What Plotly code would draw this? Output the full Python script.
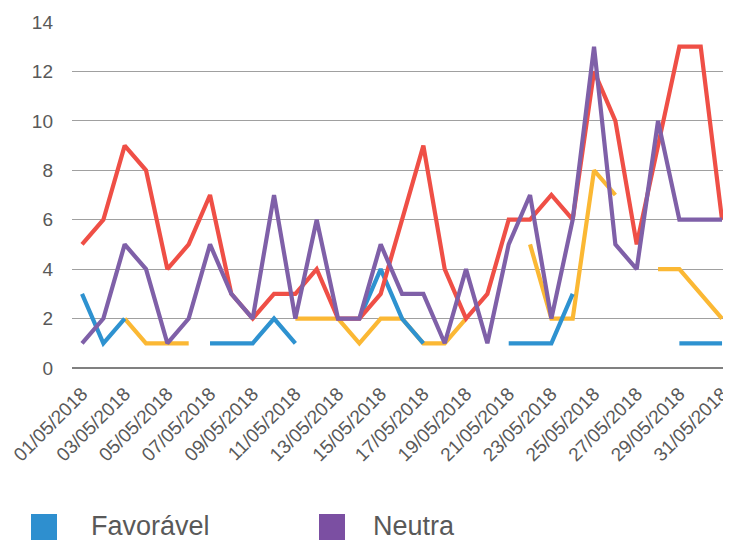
import plotly.graph_objects as go

days = list(range(1, 32))
tick_days = list(range(1, 32, 2))
tick_labels = [f"{d:02d}/05/2018" for d in tick_days]

favoravel = [3, 1, 2, None, None, None, 1, 1, 1, 2, 1, None, None, 2, 4, 2, 1, None, None, None,
             1, 1, 1, 3, None, None, None, None, 1, 1, 1]
neutra = [1, 2, 5, 4, 1, 2, 5, 3, 2, 7, 2, 6, 2, 2, 5, 3, 3, 1, 4, 1, 5, 7, 2, 6, 13, 5, 4, 10, 6, 6, 6]
desfavoravel = [5, 6, 9, 8, 4, 5, 7, 3, 2, 3, 3, 4, 2, 2, 3, 6, 9, 4, 2, 3, 6, 6, 7, 6, 12, 10, 5, 9, 13, 13, 6]
mista = [None, None, 2, 1, 1, 1, None, None, None, None, 2, 2, 2, 1, 2, 2, 1, 1, 2, None,
         None, 5, 2, 2, 8, 7, None, 4, 4, 3, 2]

C_BLUE = "#2E92D0"
C_PURPLE = "#7F60A8"
C_RED = "#EF4F46"
C_YELLOW = "#FBB834"
TXT = "#595959"
FONT = "Liberation Sans, Arial, sans-serif"

# page body has an 8px default margin; design in page pixels and offset by it
OFF = 8
W, H = 731 - OFF, 541 - OFF
ML, MR, MT = 72 - OFF, 0, 22 - OFF
MB = H - (368 - OFF)

fig = go.Figure()
for name, vals, col in [("Mista", mista, C_YELLOW), ("Favorável", favoravel, C_BLUE),
                        ("Desfavorável", desfavoravel, C_RED), ("Neutra", neutra, C_PURPLE)]:
    fig.add_trace(go.Scatter(x=days, y=vals, mode="lines", name=name,
                             line=dict(color=col, width=4.2), connectgaps=False,
                             showlegend=False))

fig.update_layout(
    width=W, height=H,
    margin=dict(l=ML, r=MR, t=MT, b=MB),
    paper_bgcolor="white", plot_bgcolor="white",
    font=dict(family=FONT, color=TXT, size=19),
    showlegend=False,
    xaxis=dict(range=[0.53, 31.42], tickmode="array", tickvals=tick_days, ticktext=tick_labels,
               tickangle=-45, showgrid=False, zeroline=False, showline=False,
               ticks="", tickfont=dict(size=19, color=TXT), ticklabelstandoff=10,
               ticklabeloverflow="allow"),
    yaxis=dict(range=[0, 14], dtick=2, showgrid=True, gridcolor="#A0A0A0", gridwidth=1.3,
               zeroline=True, zerolinecolor="#808080", zerolinewidth=2, showline=False,
               ticks="", tickfont=dict(size=19, color=TXT), ticklabelstandoff=18),
)

pw = W - ML - MR
ph = H - MT - MB

def px2paper(x, y):
    # x, y in page pixels
    return (x - OFF - ML) / pw, (H - MB - (y - OFF)) / ph

legend_items = [("Favorável", "#2E8FCF", 31, 90), ("Neutra", "#7B4FA2", 319, 372)]
for label, col, sx, tx in legend_items:
    x0, y0 = px2paper(sx, 514)
    x1, y1 = px2paper(sx + 26, 540)
    fig.add_shape(type="rect", xref="paper", yref="paper", x0=x0, x1=x1, y0=y1, y1=y0,
                  fillcolor=col, line=dict(width=0))
    ax, ay = px2paper(tx, 526)
    fig.add_annotation(xref="paper", yref="paper", x=ax, y=ay, text=label, showarrow=False,
                       xanchor="left", yanchor="middle", borderpad=0,
                       font=dict(size=27, color=TXT, family=FONT))

fig.write_html("out.html")
